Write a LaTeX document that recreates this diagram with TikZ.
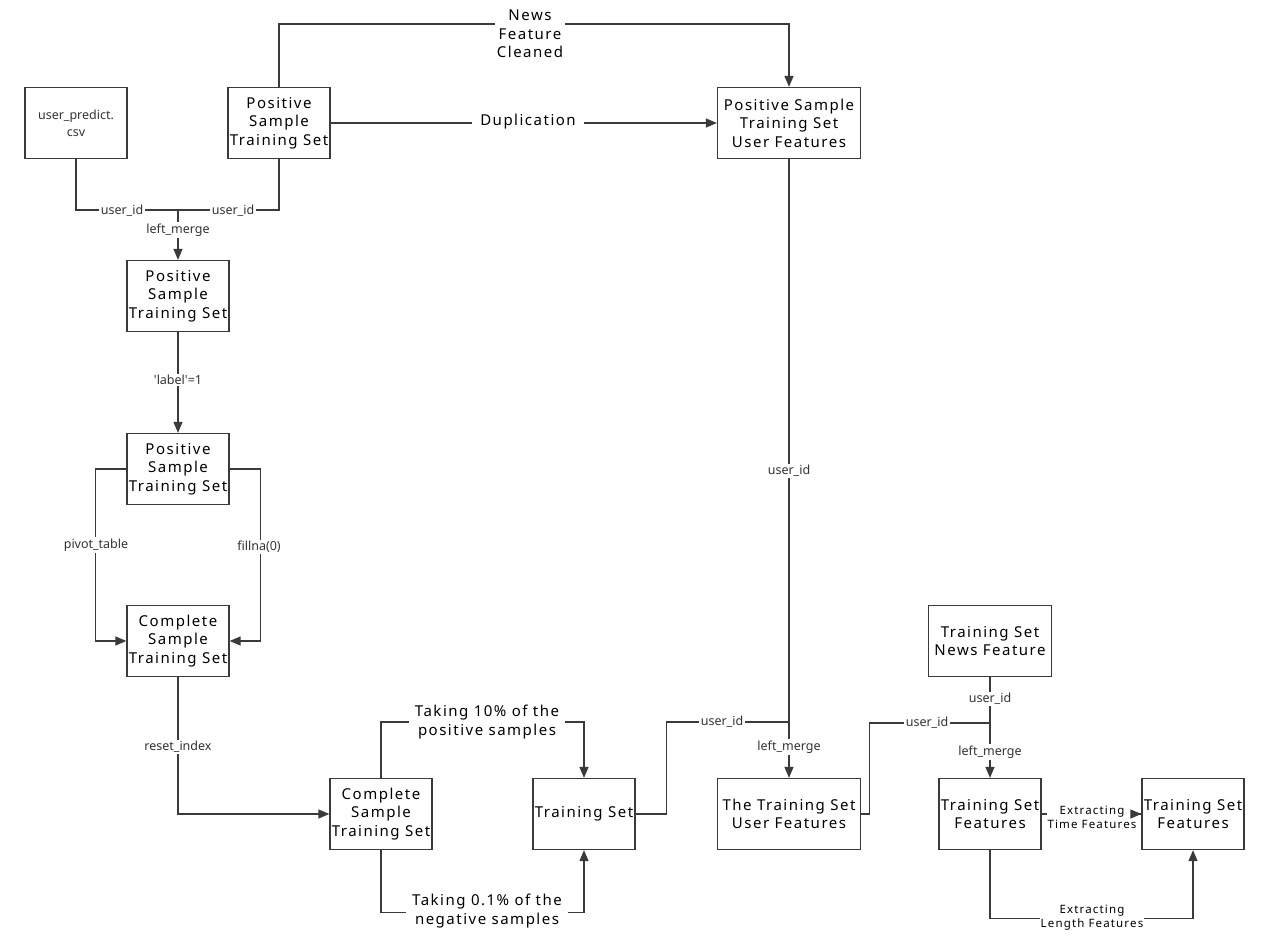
\documentclass[tikz,border=0pt]{standalone}
\usepackage{fontspec}
\newfontfamily\boxfont{Noto Sans}[LetterSpace=10]
\newfontfamily\lblfont{Noto Sans}
\usetikzlibrary{arrows.meta}
\definecolor{linegray}{HTML}{3A3A3A}
\definecolor{textgray}{HTML}{333333}
\tikzset{
    box/.style={draw=linegray, line width=1.3pt, fill=white, minimum width=102pt,
        minimum height=71pt, align=center, inner sep=0pt,
        font=\boxfont\fontsize{15}{18.5}\selectfont},
    lbl/.style={fill=white, inner sep=1.5pt, text=textgray, font=\lblfont\fontsize{12.5}{15}\selectfont},
    biglbl/.style={fill=white, inner sep=2pt, align=center, font=\boxfont\fontsize{15}{18.5}\selectfont},
    smalllbl/.style={fill=white, inner sep=1pt, align=center, font=\boxfont\fontsize{11.5}{14}\selectfont},
    conn/.style={draw=linegray, line width=1.3pt},
    arr/.style={conn, -{Triangle[length=11pt,width=9pt]}}
}
\begin{document}
\begin{tikzpicture}[x=1pt, y=-1pt]
    \useasboundingbox (0,0) rectangle (1269,943);

    % boxes
    \node[box, text=textgray, font=\lblfont\fontsize{12.5}{17}\selectfont] (upcsv) at (76,123) {user\_predict.\\csv};
    \node[box] (posset) at (279,123) {Positive\\Sample\\Training Set};
    \node[box, minimum width=143pt] (posuser) at (789,123) {Positive Sample\\Training Set\\User Features};
    \node[box] (posmerged) at (178,296) {Positive\\Sample\\Training Set};
    \node[box] (poslabel) at (178,469) {Positive\\Sample\\Training Set};
    \node[box] (fullset) at (178,641) {Complete\\Sample\\Training Set};
    \node[box] (fullset2) at (381,814) {Complete\\Sample\\Training Set};
    \node[box] (trainset) at (584,814) {Training Set};
    \node[box, minimum width=143pt] (trainuser) at (789,814) {The Training Set\\User Features};
    \node[box, minimum width=123pt] (trainnews) at (990,641) {Training Set\\News Feature};
    \node[box] (trainfeat) at (990,814) {Training Set\\Features};
    \node[box] (trainfeat2) at (1193,814) {Training Set\\Features};

    % merge points
    \coordinate (mergeA) at (178,210);
    \coordinate (mergeB) at (789,722);
    \coordinate (mergeC) at (990,723);

    % connectors
    \draw[arr] (posset.north) -- ++(0,-63) -| (posuser.north);
    \draw[arr] (posset.east) -- (posuser.west);
    \draw[conn] (upcsv.south) |- (mergeA);
    \draw[conn] (posset.south) |- (mergeA);
    \draw[arr] (mergeA) -- (posmerged.north);
    \draw[arr] (posmerged.south) -- (poslabel.north);
    \draw[arr] (poslabel.west) -- ++(-31,0) |- (fullset.west);
    \draw[arr] (poslabel.east) -- ++(31,0) |- (fullset.east);
    \draw[arr] (fullset.south) |- (fullset2.west);
    \draw[arr] (fullset2.north) -- ++(0,-56) -| (trainset.north);
    \draw[arr] (fullset2.south) -- ++(0,62) -| (trainset.south);
    \draw[conn] (trainset.east) -- ++(31,0) |- (mergeB);
    \draw[arr] (posuser.south) -- (trainuser.north);
    \draw[conn] (trainuser.east) -- ++(8,0) |- (mergeC);
    \draw[arr] (trainnews.south) -- (trainfeat.north);
    \draw[conn] (trainfeat.east) -- (trainfeat2.west);
    \draw[arr] (trainfeat.south) -- ++(0,68) -| (trainfeat2.south);

    % labels
    \node[biglbl] (lclean) at (530,34) {News\\Feature\\Cleaned};
    \node[biglbl, inner xsep=8pt] (ldup) at (528,122) {Duplication};
    \node[lbl] (luidA) at (122,211) {user\_id};
    \node[lbl] (luidB) at (233,211) {user\_id};
    \node[lbl] (lmergeA) at (178,230) {left\_merge};
    \node[lbl] (llabel) at (178,380) {'label'=1};
    \node[lbl] (lpivot) at (96,545) {pivot\_table};
    \node[lbl] (lfill) at (259,547) {fillna(0)};
    \node[lbl] (lreset) at (178,747) {reset\_index};
    \node[biglbl, inner xsep=6pt] (lpos) at (487,722) {Taking 10\% of the\\positive samples};
    \node[biglbl, inner xsep=6pt] (lneg) at (487,911) {Taking 0.1\% of the\\negative samples};
    \node[lbl] (luidC) at (789,471) {user\_id};
    \node[lbl] (luidD) at (722,722) {user\_id};
    \node[lbl] (lmergeB) at (789,747) {left\_merge};
    \node[lbl] (luidE) at (990,699) {user\_id};
    \node[lbl] (luidF) at (927,723) {user\_id};
    \node[lbl] (lmergeC) at (990,752) {left\_merge};
    \node[smalllbl] (ltime) at (1092,817) {Extracting\\Time Features};
    \node[smalllbl] (llength) at (1092,918) {Extracting\\Length Features};

    % tip over the label
    \draw[arr] (ltime.east |- trainfeat2.west) -- (trainfeat2.west);
\end{tikzpicture}
\end{document}
